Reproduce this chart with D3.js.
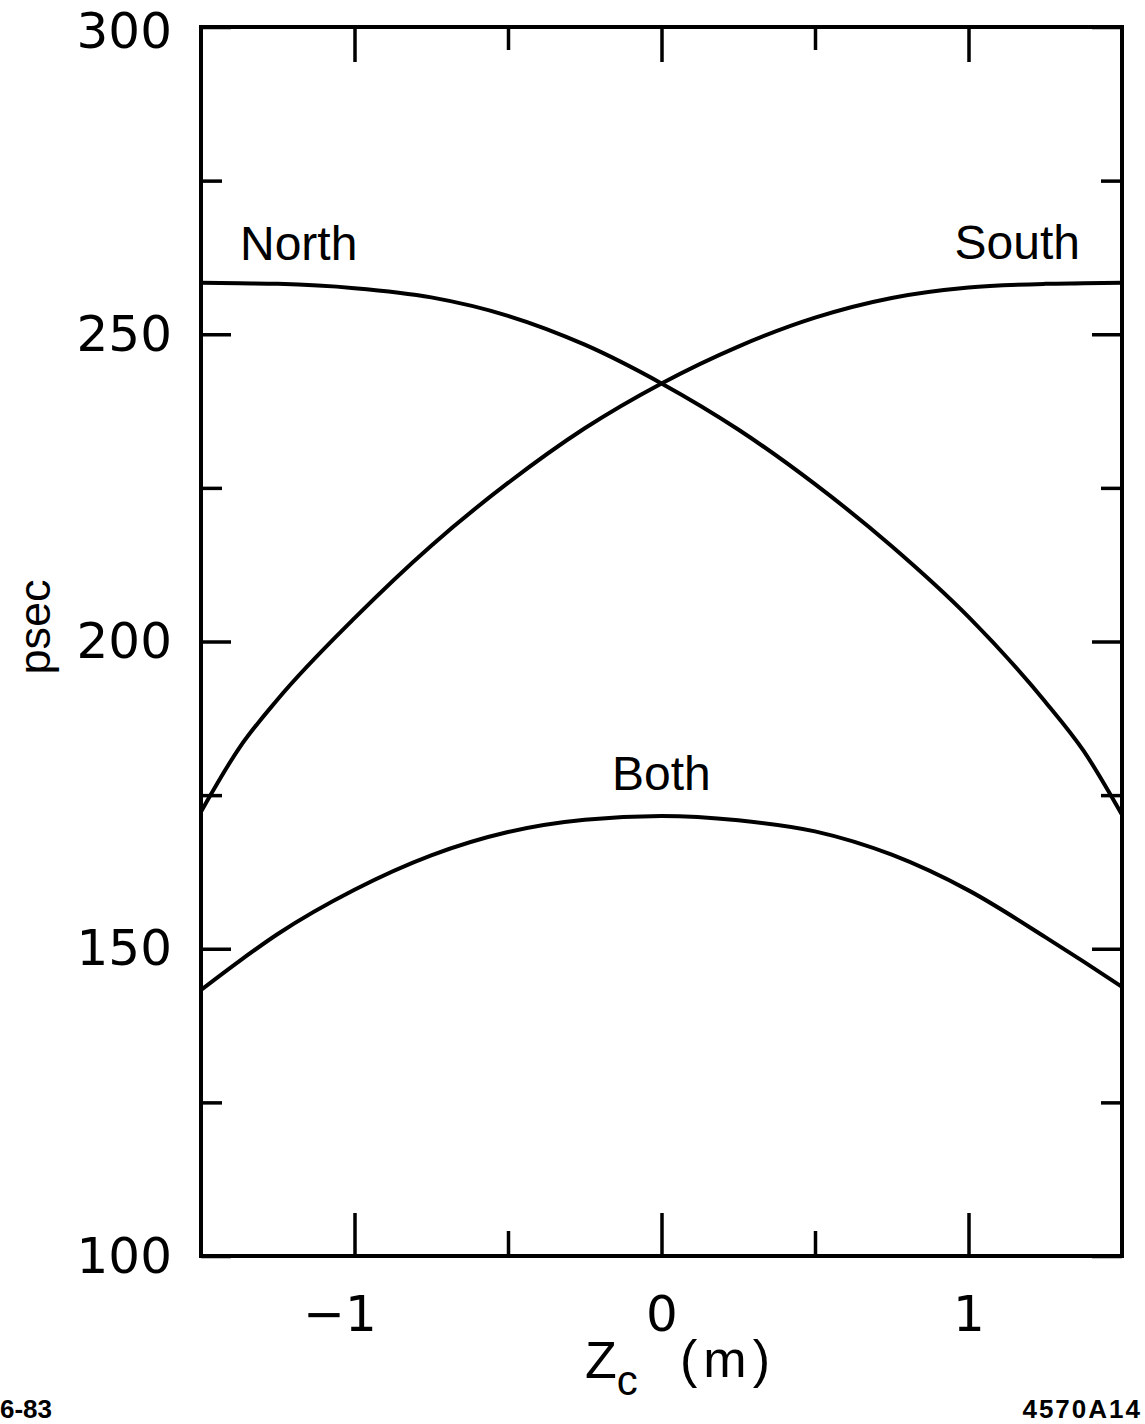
<!DOCTYPE html>
<html>
<head>
<meta charset="utf-8">
<script src="https://cdn.jsdelivr.net/npm/d3@7"></script>
<style>
  body { margin: 0; background: #fff; }
  svg { display: block; }
  .tick text { font-family: "DejaVu Sans", sans-serif; font-size: 50px; fill: #000; }
  .label { font-family: "Liberation Sans", Arial, sans-serif; fill: #000; }
</style>
</head>
<body>
<svg width="1145" height="1424"></svg>
<script>
// positions along the beam (m)
var zc = [-1.5, -1.375, -1.25, -1, -0.75, -0.5, -0.25, 0, 0.25, 0.5, 0.75, 1, 1.25, 1.375, 1.5];

// resolution (psec)
var north = [258.4, 258.3, 258.2, 257.5, 256.0, 253.0, 248.3, 242.0, 234.5, 225.6, 215.5, 204.0, 190.2, 182.2, 171.8];
var south = [172.3, 182.7, 190.6, 203.8, 215.6, 225.8, 234.7, 242.0, 248.0, 252.7, 255.9, 257.6, 258.2, 258.3, 258.4];
var both  = [143.3, 148.0, 152.4, 159.6, 165.2, 169.0, 171.0, 171.6, 170.9, 169.1, 165.3, 159.5, 151.9, 147.9, 143.8];

var xMajor = [-1, 0, 1];
var xMinor = [-0.5, 0.5];
var yMajor = [100, 150, 200, 250, 300];
var yMinor = [125, 175, 225, 275];

var svg = d3.select("svg");
var plotL = 201, plotR = 1122, plotT = 27, plotB = 1256;

var x = d3.scaleLinear().domain([-1.5, 1.5]).range([plotL, plotR]);
var y = d3.scaleLinear().domain([100, 300]).range([plotB, plotT]);

function styleAxis(g) {
  g.selectAll("line").attr("stroke", "#000").attr("stroke-width", 3.5);
  g.select(".domain").remove();
}

// bottom axis: labelled majors and short minors
svg.append("g")
    .attr("transform", "translate(0," + plotB + ")")
    .call(d3.axisBottom(x).tickValues(xMajor).tickSizeInner(-43).tickSizeOuter(0).tickPadding(39)
      .tickFormat(function(d) { return d < 0 ? "\u2212" + Math.abs(d) : d; }))
    .call(styleAxis)
    .selectAll("text")
      .attr("dx", function(d) { return d < 0 ? -15 : 0; });

svg.append("g")
    .attr("transform", "translate(0," + plotB + ")")
    .call(d3.axisBottom(x).tickValues(xMinor).tickSizeInner(-25).tickSizeOuter(0).tickFormat(""))
    .call(styleAxis);

// top axis
svg.append("g")
    .attr("transform", "translate(0," + plotT + ")")
    .call(d3.axisTop(x).tickValues(xMajor).tickSizeInner(-35).tickSizeOuter(0).tickFormat(""))
    .call(styleAxis);
svg.append("g")
    .attr("transform", "translate(0," + plotT + ")")
    .call(d3.axisTop(x).tickValues(xMinor).tickSizeInner(-23).tickSizeOuter(0).tickFormat(""))
    .call(styleAxis);

// left axis
svg.append("g")
    .attr("transform", "translate(" + plotL + ",0)")
    .call(d3.axisLeft(y).tickValues(yMajor).tickSizeInner(-30).tickSizeOuter(0).tickPadding(29))
    .call(styleAxis)
    .selectAll("text")
      .attr("dy", function(d) { return d === 300 ? "0.4em" : "0.32em"; });
svg.append("g")
    .attr("transform", "translate(" + plotL + ",0)")
    .call(d3.axisLeft(y).tickValues(yMinor).tickSizeInner(-21).tickSizeOuter(0).tickFormat(""))
    .call(styleAxis);

// right axis
svg.append("g")
    .attr("transform", "translate(" + plotR + ",0)")
    .call(d3.axisRight(y).tickValues(yMajor).tickSizeInner(-30).tickSizeOuter(0).tickFormat(""))
    .call(styleAxis);
svg.append("g")
    .attr("transform", "translate(" + plotR + ",0)")
    .call(d3.axisRight(y).tickValues(yMinor).tickSizeInner(-21).tickSizeOuter(0).tickFormat(""))
    .call(styleAxis);

// frame
svg.append("rect")
    .attr("x", x(-1.5)).attr("y", y(300))
    .attr("width", x(1.5) - x(-1.5)).attr("height", y(100) - y(300))
    .attr("fill", "none").attr("stroke", "#000").attr("stroke-width", 4);

// curves
var line = d3.line()
    .x(function(d) { return x(d[0]); })
    .y(function(d) { return y(d[1]); })
    .curve(d3.curveMonotoneX);

[north, south, both].forEach(function(s) {
  svg.append("path")
      .datum(zc.map(function(z, i) { return [z, s[i]]; }))
      .attr("fill", "none")
      .attr("stroke", "#000")
      .attr("stroke-width", 4)
      .attr("stroke-linejoin", "round")
      .attr("d", line);
});

// curve labels
svg.append("text").attr("class", "label").attr("x", 240).attr("y", 260)
    .attr("font-size", 48).text("North");
svg.append("text").attr("class", "label").attr("x", 1080).attr("y", 259)
    .attr("font-size", 48).attr("text-anchor", "end").text("South");
svg.append("text").attr("class", "label").attr("x", 612).attr("y", 790)
    .attr("font-size", 48).text("Both");

// axis titles
svg.append("text").attr("class", "label")
    .attr("transform", "translate(50,627) rotate(-90)")
    .attr("text-anchor", "middle").attr("font-size", 45).text("psec");

var xt = svg.append("text").attr("class", "label").attr("x", 585).attr("y", 1378).attr("font-size", 52);
xt.append("tspan").text("Z");
xt.append("tspan").attr("font-size", 42).attr("dy", 17).text("c");
svg.append("text").attr("class", "label").attr("x", 680).attr("y", 1377)
    .attr("font-family", "DejaVu Sans").attr("letter-spacing", 6)
    .attr("font-size", 52).text("(m)");

// figure codes
svg.append("text").attr("class", "label").attr("x", 0).attr("y", 1418)
    .attr("font-size", 26).attr("font-weight", "bold").text("6-83");
svg.append("text").attr("class", "label").attr("x", 1142).attr("y", 1418)
    .attr("text-anchor", "end").attr("letter-spacing", 2)
    .attr("font-size", 26).attr("font-weight", "bold").text("4570A14");
</script>
</body>
</html>
